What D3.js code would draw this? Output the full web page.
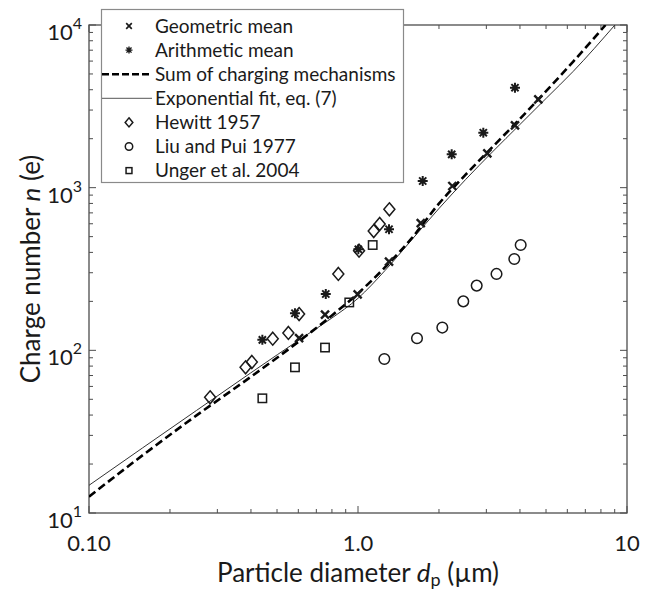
<!DOCTYPE html>
<html>
<head>
<meta charset="utf-8">
<script src="https://cdn.jsdelivr.net/npm/d3@7"></script>
<style>
  body { margin: 0; background: #fff; }
  text { font-family: Lato, "Open Sans", sans-serif; fill: #1a1a1a; }
</style>
</head>
<body>
<svg id="chart" width="655" height="591"></svg>
<script>
// Measured charge per particle vs. particle diameter
const geoD = [0.604, 0.754, 0.997, 1.304, 1.711, 2.242, 3.025, 3.833, 4.68];
const geoN = [119, 166, 221, 351, 606, 1024, 1627, 2417, 3493];

const ariD = [0.441, 0.583, 0.759, 1.003, 1.304, 1.74, 2.23, 2.923, 3.833];
const ariN = [116, 169, 222, 418, 555, 1099, 1603, 2177, 4116];

const hewittD = [0.282, 0.382, 0.403, 0.482, 0.551, 0.604, 0.845, 1.009, 1.144, 1.204, 1.308];
const hewittN = [51.4, 78.6, 84.8, 118, 128, 167, 295, 410, 541, 598, 736];

const liuD = [1.253, 1.657, 2.058, 2.463, 2.762, 3.273, 3.811, 4.025];
const liuN = [88.4, 118.6, 138, 200, 250, 295, 364, 444];

const ungerD = [0.441, 0.583, 0.754, 0.928, 1.134];
const ungerN = [50.7, 78.6, 104, 197, 444];

// Model curves
const sumD = [0.1, 0.158, 0.251, 0.398, 0.631, 0.794, 1.0, 1.259, 1.585, 1.995, 2.512, 3.162, 3.981, 5.012, 6.31, 8.318];
const sumN = [12.6, 22.6, 39.8, 68.4, 120.2, 162.2, 223.9, 323.6, 489.8, 794.3, 1202, 1778, 2630, 3936, 5957, 10000];

const fitD = [0.1, 0.158, 0.251, 0.398, 0.631, 0.794, 1.0, 1.259, 1.585, 1.995, 2.512, 3.162, 3.981, 5.012, 6.31, 9.016];
const fitN = [14.8, 25.1, 42.7, 72.4, 121.6, 156.7, 208.9, 309, 478.6, 741.3, 1122, 1660, 2427, 3548, 5188, 10000];

const xTicks = [0.1, 1, 10];
const xTickLabels = ["0.10", "1.0", "10"];
const yTicks = [10, 100, 1000, 10000];
const yTickExp = ["1", "2", "3", "4"];

const legendItems = [
  { label: "Geometric mean", kind: "cross" },
  { label: "Arithmetic mean", kind: "star" },
  { label: "Sum of charging mechanisms", kind: "dash" },
  { label: "Exponential fit, eq. (7)", kind: "thin" },
  { label: "Hewitt 1957", kind: "diamond" },
  { label: "Liu and Pui 1977", kind: "circle" },
  { label: "Unger et al. 2004", kind: "square" }
];

const svg = d3.select("#chart");
const L = 89, R = 627, T = 25, B = 513;
const x = d3.scaleLog().domain([0.1, 10]).range([L, R]);
const y = d3.scaleLog().domain([10, 10000]).range([B, T]);

const ink = "#1a1a1a";
const axisCol = "#4d4d4d";

// minor tick values
const xMinor = [];
[0.1, 1].forEach(b => { for (let k = 2; k <= 9; k++) xMinor.push(b * k); });
const yMinor = [];
[10, 100, 1000].forEach(b => { for (let k = 2; k <= 9; k++) yMinor.push(b * k); });

const gAx = svg.append("g");
function tickLines(vals, len) {
  vals.forEach(v => {
    gAx.append("line").attr("x1", x(v)).attr("x2", x(v)).attr("y1", B).attr("y2", B - len);
    gAx.append("line").attr("x1", x(v)).attr("x2", x(v)).attr("y1", T).attr("y2", T + len);
  });
}
function tickLinesY(vals, len) {
  vals.forEach(v => {
    gAx.append("line").attr("y1", y(v)).attr("y2", y(v)).attr("x1", L).attr("x2", L + len);
    gAx.append("line").attr("y1", y(v)).attr("y2", y(v)).attr("x1", R).attr("x2", R - len);
  });
}
tickLines(xTicks, 7); tickLines(xMinor, 4);
tickLinesY(yTicks, 7); tickLinesY(yMinor, 4);
gAx.selectAll("line").attr("stroke", axisCol).attr("stroke-width", 1);
gAx.append("rect").attr("x", L).attr("y", T).attr("width", R - L).attr("height", B - T)
  .attr("fill", "none").attr("stroke", axisCol).attr("stroke-width", 1.3);

// tick labels
xTicks.forEach((v, i) => {
  svg.append("text").attr("x", x(v)).attr("y", 551).attr("text-anchor", "middle")
    .attr("font-size", 22).text(xTickLabels[i]);
});
yTicks.forEach((v, i) => {
  const t = svg.append("text").attr("x", 82).attr("y", y(v) + 15).attr("text-anchor", "end")
    .attr("font-size", 22);
  t.append("tspan").text("10");
  t.append("tspan").attr("dy", -11).attr("font-size", 16).text(yTickExp[i]);
});

// axis titles
const xt = svg.append("text").attr("x", (L + R) / 2).attr("y", 582).attr("text-anchor", "middle")
  .attr("font-size", 26);
xt.append("tspan").text("Particle diameter ");
xt.append("tspan").attr("font-style", "italic").text("d");
xt.append("tspan").attr("dy", 4).attr("font-size", 18).text("p");
xt.append("tspan").attr("dy", -4).text(" (\u00b5m)");

const yt = svg.append("text").attr("transform", `translate(40,${(T + B) / 2}) rotate(-90)`)
  .attr("text-anchor", "middle").attr("font-size", 26);
yt.append("tspan").text("Charge number ");
yt.append("tspan").attr("font-style", "italic").text("n");
yt.append("tspan").text(" (e)");

// curves
const clip = svg.append("clipPath").attr("id", "plotclip");
clip.append("rect").attr("x", L).attr("y", T).attr("width", R - L).attr("height", B - T);
const plot = svg.append("g").attr("clip-path", "url(#plotclip)");

const line = d3.line().x(d => x(d[0])).y(d => y(d[1])).curve(d3.curveMonotoneX);
plot.append("path").datum(d3.zip(fitD, fitN)).attr("d", line)
  .attr("fill", "none").attr("stroke", "#333").attr("stroke-width", 1);
plot.append("path").datum(d3.zip(sumD, sumN)).attr("d", line)
  .attr("fill", "none").attr("stroke", "#000").attr("stroke-width", 2.6)
  .attr("stroke-dasharray", "8,4");

// marker symbols
function drawMarker(g, kind, cx, cy, s) {
  const sw = 1.5;
  if (kind === "cross") {
    const h = 4 * s;
    g.append("path").attr("d", `M${cx - h},${cy - h}L${cx + h},${cy + h}M${cx - h},${cy + h}L${cx + h},${cy - h}`)
      .attr("stroke", ink).attr("stroke-width", 2.4 * s).attr("fill", "none");
  } else if (kind === "star") {
    const h = 5 * s, d = 3.6 * s;
    g.append("path").attr("d",
      `M${cx},${cy - h}L${cx},${cy + h}M${cx - h},${cy}L${cx + h},${cy}` +
      `M${cx - d},${cy - d}L${cx + d},${cy + d}M${cx - d},${cy + d}L${cx + d},${cy - d}`)
      .attr("stroke", ink).attr("stroke-width", 2 * s).attr("fill", "none");
  } else if (kind === "diamond") {
    const w = 5.5 * s, h = 6.5 * s;
    g.append("path").attr("d", `M${cx},${cy - h}L${cx + w},${cy}L${cx},${cy + h}L${cx - w},${cy}Z`)
      .attr("stroke", ink).attr("stroke-width", sw).attr("fill", "none");
  } else if (kind === "circle") {
    g.append("circle").attr("cx", cx).attr("cy", cy).attr("r", 5.3 * s)
      .attr("stroke", ink).attr("stroke-width", sw).attr("fill", "none");
  } else if (kind === "square") {
    const h = 4.2 * s;
    g.append("rect").attr("x", cx - h).attr("y", cy - h).attr("width", 2 * h).attr("height", 2 * h)
      .attr("stroke", ink).attr("stroke-width", sw).attr("fill", "none");
  }
}

const gm = svg.append("g");
function series(ds, ns, kind) {
  ds.forEach((d, i) => drawMarker(gm, kind, x(d), y(ns[i]), 1));
}
series(hewittD, hewittN, "diamond");
series(liuD, liuN, "circle");
series(ungerD, ungerN, "square");
series(ariD, ariN, "star");
series(geoD, geoN, "cross");

// legend
const lg = svg.append("g");
lg.append("rect").attr("x", 101.5).attr("y", 9.5).attr("width", 302).attr("height", 173)
  .attr("fill", "#fff").attr("stroke", "#8a8a8a").attr("stroke-width", 1.2);
legendItems.forEach((it, i) => {
  const cy = 26 + i * 24.1;
  if (it.kind === "dash") {
    lg.append("line").attr("x1", 102).attr("x2", 152).attr("y1", cy).attr("y2", cy)
      .attr("stroke", "#000").attr("stroke-width", 2.4).attr("stroke-dasharray", "7,3");
  } else if (it.kind === "thin") {
    lg.append("line").attr("x1", 102).attr("x2", 152).attr("y1", cy).attr("y2", cy)
      .attr("stroke", "#555").attr("stroke-width", 1);
  } else {
    drawMarker(lg, it.kind, 129, cy, 0.7);
  }
  lg.append("text").attr("x", 155).attr("y", cy + 6.5).attr("font-size", 19).text(it.label);
});
</script>
</body>
</html>
